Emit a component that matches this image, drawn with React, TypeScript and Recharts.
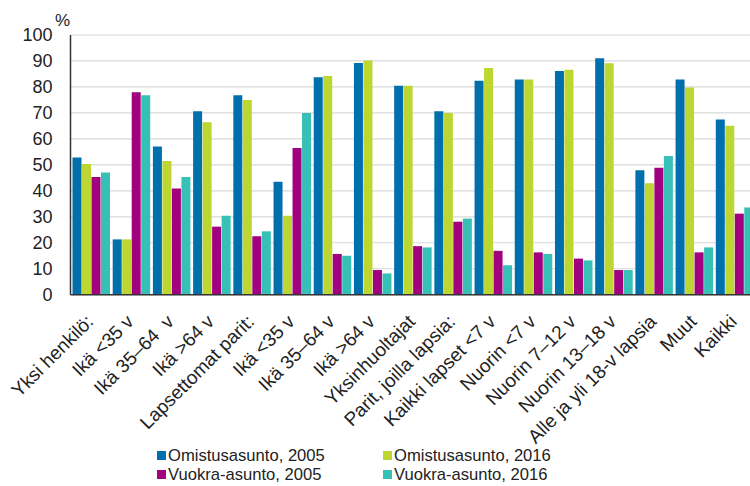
import React from 'react';
import { BarChart, Bar, XAxis, YAxis, CartesianGrid, Legend } from 'recharts';

const categories = [
  'Yksi henkilö:',
  'Ikä <35 v',
  'Ikä 35–64  v',
  'Ikä >64 v',
  'Lapsettomat parit:',
  'Ikä <35 v',
  'Ikä 35–64 v',
  'Ikä >64 v',
  'Yksinhuoltajat',
  'Parit, joilla lapsia:',
  'Kaikki lapset <7 v',
  'Nuorin <7 v',
  'Nuorin 7–12 v',
  'Nuorin 13–18 v',
  'Alle ja yli 18-v lapsia',
  'Muut',
  'Kaikki',
];

const omistus2005 = [52.8, 21.3, 57.1, 70.6, 76.8, 43.5, 83.7, 89.2, 80.5, 70.6, 82.4, 82.9, 86.1, 91.0, 47.9, 82.9, 67.5];
const omistus2016 = [50.3, 21.3, 51.5, 66.4, 75.0, 30.4, 84.2, 90.2, 80.5, 70.0, 87.3, 82.9, 86.6, 89.1, 42.9, 79.8, 65.1];
const vuokra2005 = [45.3, 78.0, 40.9, 26.2, 22.5, 56.5, 15.7, 9.5, 18.7, 28.1, 16.9, 16.3, 13.9, 9.5, 48.9, 16.3, 31.2];
const vuokra2016 = [47.1, 76.8, 45.3, 30.4, 24.4, 70.0, 15.0, 8.2, 18.2, 29.3, 11.3, 15.7, 13.2, 9.5, 53.4, 18.2, 33.6];

const yTicks = [0, 10, 20, 30, 40, 50, 60, 70, 80, 90, 100];

const seriesNames = ['Omistusasunto, 2005', 'Omistusasunto, 2016', 'Vuokra-asunto, 2005', 'Vuokra-asunto, 2016'];
const seriesKeys = ['o2005', 'o2016', 'v2005', 'v2016'];
const seriesColors = ['#0070ad', '#bdd631', '#a1007e', '#36c0b6'];

const data = categories.map((c, i) => ({
  name: c,
  o2005: omistus2005[i],
  o2016: omistus2016[i],
  v2005: vuokra2005[i],
  v2016: vuokra2016[i],
}));

const FONT = '"Liberation Sans", Arial, sans-serif';

const XTick = (props: any) => {
  const { x, y, payload } = props;
  const ax = x + 4;
  const ay = y + 28;
  return (
    <text
      x={ax}
      y={ay}
      transform={`rotate(-45, ${ax}, ${ay})`}
      textAnchor="end"
      fontSize={19}
      fontFamily={FONT}
      fill="#222"
      style={{ whiteSpace: 'pre' }}
    >
      {payload.value}
    </text>
  );
};

const LegendContent = () => {
  const positions = [
    { left: 157, top: 0 },
    { left: 383, top: 0 },
    { left: 157, top: 19 },
    { left: 383, top: 19 },
  ];
  return (
    <div style={{ position: 'relative', width: 750, height: 40, fontFamily: FONT, fontSize: 16.6, color: '#222' }}>
      {seriesNames.map((n, i) => (
        <div key={n} style={{ position: 'absolute', left: positions[i].left, top: positions[i].top, height: 19, display: 'flex', alignItems: 'center', whiteSpace: 'nowrap' }}>
          <span style={{ display: 'inline-block', width: 9, height: 9, background: seriesColors[i], marginRight: 2 }} />
          <span>{n}</span>
        </div>
      ))}
    </div>
  );
};

const PercentLabel = (props: any) => {
  const { viewBox } = props;
  return (
    <text x={viewBox.x + viewBox.width - 8} y={viewBox.y - 9} textAnchor="middle" fontSize={17} fontFamily={FONT} fill="#222">
      %
    </text>
  );
};

export default function App() {
  return (
    <div style={{ position: 'absolute', left: 0, top: 0, width: 750, height: 486, overflow: 'hidden', background: '#fff' }}>
      <BarChart
        width={760}
        height={486}
        data={data}
        margin={{ top: 35, right: 6, bottom: 0, left: 0 }}
        barCategoryGap={2}
        barGap={0.5}
      >
        <CartesianGrid vertical={false} stroke="#d9d9d9" strokeWidth={1.2} />
        <XAxis
          dataKey="name"
          interval={0}
          height={151.3}
          tick={<XTick />}
          tickLine={false}
          tickSize={0}
          tickMargin={0}
          axisLine={{ stroke: '#333', strokeWidth: 1.5 }}
        />
        <YAxis
          width={70.5}
          domain={[0, 100]}
          ticks={yTicks}
          interval={0}
          tickLine={false}
          tickSize={0}
          tickMargin={18}
          axisLine={{ stroke: '#333', strokeWidth: 1.5 }}
          tick={{ fontSize: 18, fontFamily: FONT, fill: '#222' }}
          label={<PercentLabel />}
        />
        <Legend verticalAlign="bottom" content={<LegendContent />} wrapperStyle={{ left: 0, width: 750 }} />
        {seriesKeys.map((k, i) => (
          <Bar key={k} dataKey={k} name={seriesNames[i]} fill={seriesColors[i]} isAnimationActive={false} />
        ))}
      </BarChart>
    </div>
  );
}
